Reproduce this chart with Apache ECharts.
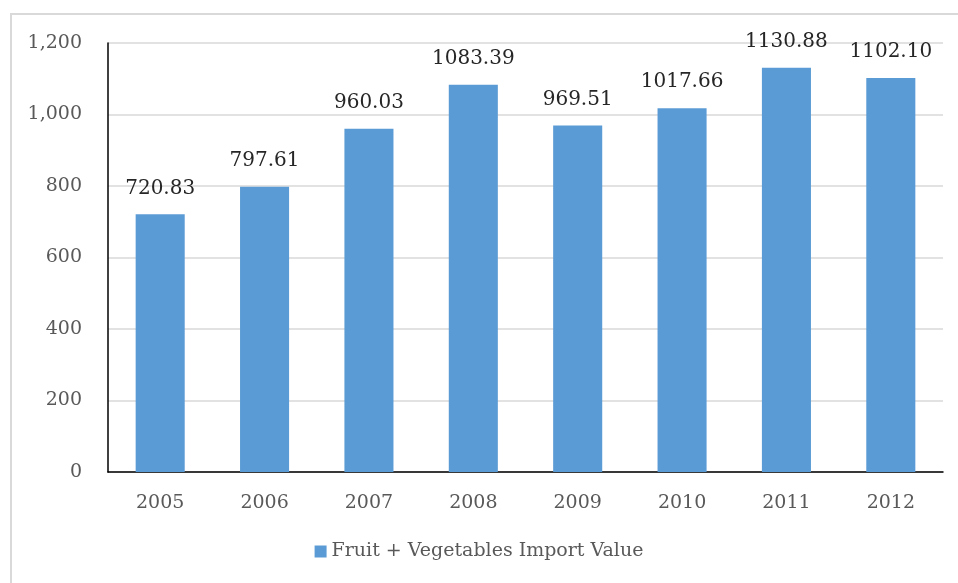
<!DOCTYPE html>
<html><head><meta charset="utf-8">
<script src="https://cdn.jsdelivr.net/npm/echarts@6/dist/echarts.min.js"></script>
<style>html,body{margin:0;padding:0;background:#fff}#c{width:958px;height:583px}</style>
</head><body><div id="c"></div>
<script>
const categories = ['2005','2006','2007','2008','2009','2010','2011','2012'];
const values = [720.83, 797.61, 960.03, 1083.39, 969.51, 1017.66, 1130.88, 1102.10];
const seriesName = 'Fruit + Vegetables Import Value';

const chart = echarts.init(document.getElementById('c'), null, {renderer:'canvas'});
const font = '"DejaVu Serif", "Liberation Serif", serif';
chart.setOption({
  animation: false,
  backgroundColor: '#fff',
  graphic: [{
    type: 'rect', shape: {x: 11, y: 14, width: 960, height: 600},
    style: {fill: 'none', stroke: '#d9d9d9', lineWidth: 2}, silent: true
  }],
  grid: {left: 108, right: 15, top: 43, bottom: 111, containLabel: false},
  legend: {
    bottom: 17, left: 'center', itemWidth: 12, itemHeight: 12, icon: 'rect', itemGap: 4,
    textStyle: {fontFamily: font, fontSize: 19, color: '#595959'},
    data: [seriesName]
  },
  xAxis: {
    type: 'category', data: categories,
    axisLine: {lineStyle: {color: '#000', width: 1.5}},
    axisTick: {show: false},
    axisLabel: {fontFamily: font, fontSize: 19, color: '#595959', margin: 22}
  },
  yAxis: {
    type: 'value', min: 0, max: 1200, interval: 200,
    axisLine: {show: true, lineStyle: {color: '#000', width: 1.5}},
    axisTick: {show: false},
    splitLine: {lineStyle: {color: '#d9d9d9', width: 1.5}},
    axisLabel: {fontFamily: font, fontSize: 19, color: '#595959', margin: 26,
      formatter: v => v.toLocaleString('en-US')}
  },
  series: [{
    name: seriesName, type: 'bar', data: values, barWidth: '47%',
    itemStyle: {color: '#5b9bd5'},
    label: {show: true, position: 'top', distance: 16, fontFamily: font, fontSize: 20, color: '#262626',
      formatter: p => p.value.toFixed(2)}
  }]
});
</script></body></html>
